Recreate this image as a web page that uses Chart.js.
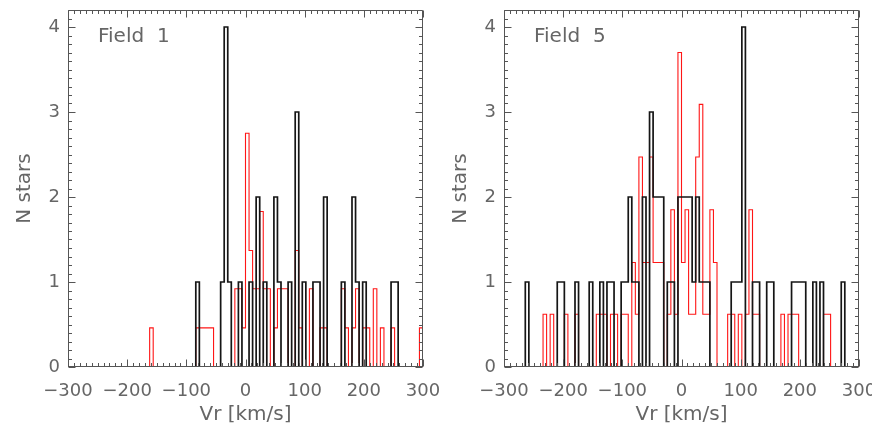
<!DOCTYPE html>
<html><head><meta charset="utf-8">
<script src="https://cdn.jsdelivr.net/npm/chart.js@4.4.1/dist/chart.umd.min.js"></script>
<style>
html,body{margin:0;padding:0;background:#fff;}
#wrap{position:relative;width:872px;height:436px;overflow:hidden;background:#fff;}
#c1{position:absolute;left:0;top:0;}
#c2{position:absolute;left:436px;top:0;}
</style></head><body>
<div id="wrap"><canvas id="c1" width="470" height="436"></canvas><canvas id="c2" width="436" height="436"></canvas></div>
<script>
// ---- data ----
const binStart = -300;           // km/s, first bin edge
const binWidth = 6;              // km/s
const xTicks = [-300, -200, -100, 0, 100, 200, 300];
const yTicks = [0, 1, 2, 3, 4];
const panelLabels = ['Field  1', 'Field  5'];
const xTitle = 'Vr [km/s]';
const yTitle = 'N stars';

// Field 1 observed counts (black), 100 bins from -300 to 300
const field1Obs = [
  0,0,0,0,0,0,0,0,0,0,
  0,0,0,0,0,0,0,0,0,0,
  0,0,0,0,0,0,0,0,0,0,
  0,0,0,0,0,0,1,0,0,0,
  0,0,0,1,4,1,0,0,1,0,
  0,1,0,2,0,1,0,0,2,1,
  0,0,1,0,3,0,1,0,0,1,
  1,0,2,0,0,0,0,1,0,0,
  2,1,0,1,0,0,0,0,0,0,
  0,1,1,0,0,0,0,0,0,0
];
// Field 1 model (red)
const field1Model = [
  0,0,0,0,0,0,0,0,0,0,
  0,0,0,0,0,0,0,0,0,0,
  0,0,0,0.46,0,0,0,0,0,0,
  0,0,0,0,0,0,0.46,0.46,0.46,0.46,
  0.46,0,0,0,0,0,0,0.92,0.92,0.46,
  2.75,1.37,0.92,0.92,1.83,0.92,0.92,0,0.46,0.92,
  0.92,0.92,0,0,1.37,0.46,0,0,0.92,0,
  0,0.46,0.46,0,0,0,0,0.92,0.46,0,
  0.46,0.92,0,0.46,0.46,0,0.92,0,0.46,0,
  0,0.46,0,0,0,0,0,0,0,0.46
];
// Field 5 observed counts (black)
const field5Obs = [
  0,0,0,0,0,0,1,0,0,0,
  0,0,0,0,0,1,1,0,0,0,
  1,0,0,0,1,0,0,1,0,1,
  1,0,0,1,1,2,1,1,0,2,
  0,3,2,2,2,0,1,1,0,2,
  2,2,2,1,2,1,1,1,0,0,
  0,0,0,0,1,1,1,4,0,0,
  1,1,0,0,1,1,0,0,0,0,
  0,1,1,1,1,0,0,1,0,1,
  0,0,0,0,0,1,0,0,0,0
];
// Field 5 model (red)
const field5Model = [
  0,0,0,0,0,0,0,0,0,0,
  0,0.62,0,0.62,0,0,0,0.62,0,0,
  0.62,0,0,0,0,0,0.62,0.62,0.62,0,
  0.62,0.62,0,0.62,0.62,0,1.23,0.62,2.47,1.23,
  1.23,2.47,1.23,1.23,1.23,0,0.62,1.85,0.62,3.70,
  1.23,1.85,0.62,0.62,2.47,3.09,0.62,0.62,1.85,1.23,
  0,0,0,0.62,0.62,0,0.62,0,0.62,1.85,
  0.62,0.62,0,0,0,0,0,0,0.62,0,
  0.62,0.62,0.62,0,0,0,0,0,0,0,
  0.62,0.62,0,0,0,0,0,0,0,0
];

// ---- helpers ----
function stepPoints(counts) {
  const pts = counts.map((c, i) => ({ x: binStart + i * binWidth, y: c }));
  pts.push({ x: binStart + counts.length * binWidth, y: 0 });
  return pts;
}
const TXT = '#666666';
const FONT = 'DejaVu Sans';

function framePlugin(label) {
  return {
    id: 'frameTicks',
    afterDatasetsDraw(chart) {
      const { ctx, chartArea: a, scales: { x, y } } = chart;
      ctx.save();
      ctx.strokeStyle = '#555';
      ctx.lineWidth = 1;
      const L = Math.round(a.left) + 0.5, R = Math.round(a.right) - 0.5;
      const T = Math.round(a.top) + 0.5, B = Math.round(a.bottom) - 0.5;
      ctx.beginPath();
      ctx.rect(L, T, R - L, B - T);
      ctx.stroke();
      ctx.beginPath();
      for (let v = xTicks[0]; v <= xTicks[xTicks.length - 1]; v += 10) {
        const px = Math.round(x.getPixelForValue(v)) + 0.5;
        const len = (v % 100 === 0) ? 7 : 3.5;
        ctx.moveTo(px, B); ctx.lineTo(px, B - len);
        ctx.moveTo(px, T); ctx.lineTo(px, T + len);
      }
      for (let i = 0; i <= 42; i++) {
        const py = Math.round(y.getPixelForValue(i / 10)) + 0.5;
        const len = (i % 10 === 0) ? 7 : 3.5;
        ctx.moveTo(L, py); ctx.lineTo(L + len, py);
        ctx.moveTo(R, py); ctx.lineTo(R - len, py);
      }
      ctx.stroke();
      ctx.fillStyle = TXT;
      ctx.font = '20px "' + FONT + '"';
      ctx.textBaseline = 'middle';
      ctx.textAlign = 'left';
      ctx.fillText(label, a.left + 30, a.top + 27);
      ctx.restore();
    }
  };
}

function makeChart(id, obs, model, label, padRight) {
  return new Chart(document.getElementById(id), {
    type: 'line',
    data: {
      datasets: [
        { data: stepPoints(obs), stepped: true, borderColor: '#151515', borderWidth: 1.7,
          pointRadius: 0, fill: false, order: 0 },
        { data: stepPoints(model), stepped: true, borderColor: 'rgba(255,10,10,0.95)', borderWidth: 1.1,
          pointRadius: 0, fill: false, order: 1 }
      ]
    },
    options: {
      responsive: false, animation: false,
      layout: { padding: { left: 0, right: padRight, top: 10, bottom: 6 } },
      plugins: { legend: { display: false }, tooltip: { enabled: false } },
      scales: {
        x: {
          type: 'linear', min: xTicks[0], max: xTicks[xTicks.length - 1],
          grid: { display: false, drawTicks: false }, border: { display: false },
          afterBuildTicks: s => { s.ticks = xTicks.map(v => ({ value: v })); },
          ticks: { autoSkip: false, maxRotation: 0, padding: 15, color: TXT,
                   font: { family: FONT, size: 18, lineHeight: 1 },
                   callback: v => String(v).replace('-', '\u2212') },
          title: { display: true, text: xTitle, color: TXT,
                   font: { family: FONT, size: 20, lineHeight: 1.2 }, padding: { top: 0, bottom: 3 } },
          afterFit: s => { s.height = 63; s.paddingLeft = 0; s.paddingRight = 0; }
        },
        y: {
          min: 0, max: 4.2,
          grid: { display: false, drawTicks: false }, border: { display: false },
          afterBuildTicks: s => { s.ticks = yTicks.map(v => ({ value: v })); },
          ticks: { padding: 8, color: TXT, font: { family: FONT, size: 18, lineHeight: 1 } },
          title: { display: true, text: yTitle, color: TXT,
                   font: { family: FONT, size: 20, lineHeight: 1.2 }, padding: { top: 13, bottom: 0 } },
          afterFit: s => { s.width = 68; s.paddingTop = 0; s.paddingBottom = 0; }
        }
      }
    },
    plugins: [framePlugin(label)]
  });
}

makeChart('c1', field1Obs, field1Model, panelLabels[0], 47);
makeChart('c2', field5Obs, field5Model, panelLabels[1], 13);
</script>
</body></html>
